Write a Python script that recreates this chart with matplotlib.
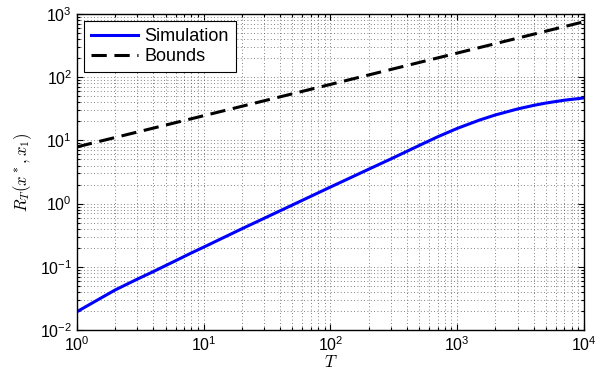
import matplotlib
matplotlib.use("Agg")
import matplotlib.pyplot as plt
from matplotlib.ticker import LogLocator

plt.rcParams['font.family'] = ['Liberation Sans', 'DejaVu Sans']
plt.rcParams['mathtext.fontset'] = 'cm'

# simulation curve
t_sim = [1, 1.5, 2, 3, 4, 6, 8, 10, 20, 50, 100, 200, 300, 500, 700, 1000,
         1500, 2000, 3000, 4000, 5000, 7000, 10000]
r_sim = [0.0195, 0.031, 0.043, 0.064, 0.084, 0.125, 0.166, 0.205, 0.4, 0.95,
         1.83, 3.5, 5.1, 8.3, 11.4, 15.5, 21.0, 25.3, 31.5, 35.8, 39, 43.3, 47]

# bound line
t_bnd = [1, 10, 100, 1000, 10000]
r_bnd = [7.9, 24.6, 77, 241, 755]

fig = plt.figure(figsize=(6.13, 3.84), dpi=100)
ax = fig.add_axes([0.1256, 0.1406, 0.8271, 0.8229])

ax.loglog(t_sim, r_sim, color='#0000ff', lw=2.2, label='Simulation')
ax.loglog(t_bnd, r_bnd, color='k', lw=2.2, ls=(0, (5, 2.5)), label='Bounds')

ax.set_xlim(1, 1e4)
ax.set_ylim(1e-2, 1e3)
ax.xaxis.set_major_locator(LogLocator(base=10, numticks=10))
ax.yaxis.set_major_locator(LogLocator(base=10, numticks=10))
ax.xaxis.set_minor_locator(LogLocator(base=10, subs=range(2, 10), numticks=20))
ax.yaxis.set_minor_locator(LogLocator(base=10, subs=range(2, 10), numticks=20))

ax.grid(which='both', color='0.35', ls=(0, (1, 3)), lw=0.6)
ax.tick_params(which='both', direction='in', top=True, right=True, labelsize=11.5, width=0.8)
ax.tick_params(which='major', length=4)
ax.tick_params(which='minor', length=2)
for s in ax.spines.values():
    s.set_linewidth(1.0)

ax.set_xlabel('$T$', fontsize=12, labelpad=0)
ax.set_ylabel('$R_T(x^*, x_1)$', fontsize=12, labelpad=4)

leg = ax.legend(loc='upper left', fontsize=13, fancybox=False, framealpha=1,
                edgecolor='k', handlelength=2.6, handletextpad=0.35,
                borderpad=0.4, labelspacing=0.15, borderaxespad=0.4)
leg.get_frame().set_linewidth(0.8)

fig.savefig('out.png', dpi=100)
